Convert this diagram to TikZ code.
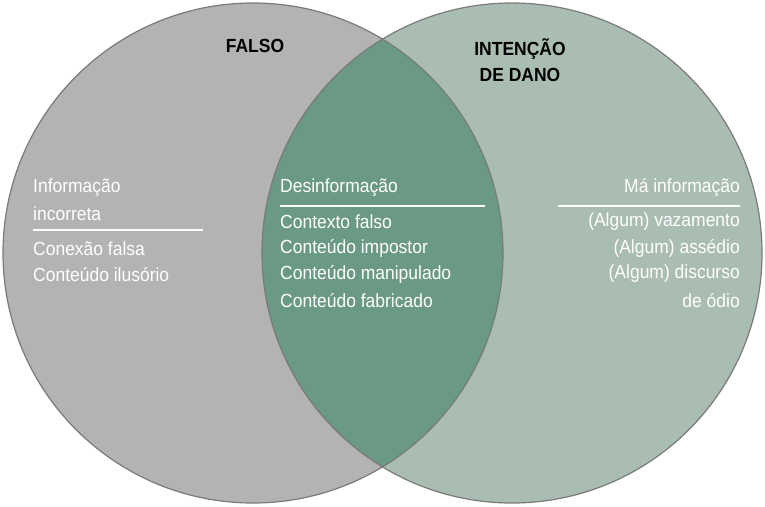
\documentclass[tikz,border=0pt]{standalone}
\usepackage{fontspec}
\setmainfont{Liberation Sans}[FakeStretch=0.92]
\begin{document}
\begin{tikzpicture}[x=1pt,y=-1pt,
  txt/.style={text=white,font=\fontsize{19}{24}\selectfont,inner sep=0pt},
  hdr/.style={text=black,font=\bfseries\fontsize{19}{26}\selectfont,inner sep=0pt,align=center},
  rule/.style={white,line width=1.6pt}]
\useasboundingbox (0,0) rectangle (765,506);
\definecolor{cleft}{HTML}{B3B3B3}
\definecolor{cright}{HTML}{A9BDB2}
\definecolor{cmid}{HTML}{6A9985}
\definecolor{cedge}{HTML}{7A7A7A}
\fill[cleft] (253,253) circle (250);
\fill[cright] (512,253) circle (250);
\begin{scope}
\clip (253,253) circle (250);
\fill[cmid] (512,253) circle (250);
\end{scope}
\draw[cedge,line width=1.2pt] (253,253) circle (250);
\draw[cedge,line width=1.2pt] (512,253) circle (250);
\node[hdr] (h1) at (255,46) {FALSO};
\node[hdr] (h2) at (520,60) {INTENÇÃO\\DE DANO};
% left
\node[txt,anchor=west] (l1) at (33,188) {Informação};
\node[txt,anchor=west] (l2) at (33,214) {incorreta};
\draw[rule] (33,230) -- (203,230);
\node[txt,anchor=west] (l3) at (33,249) {Conexão falsa};
\node[txt,anchor=west] (l4) at (33,275) {Conteúdo ilusório};
% middle
\node[txt,anchor=west] (m0) at (280,188) {Desinformação};
\draw[rule] (280,206) -- (485,206);
\node[txt,anchor=west] (m1) at (280,222) {Contexto falso};
\node[txt,anchor=west] (m2) at (280,248) {Conteúdo impostor};
\node[txt,anchor=west] (m3) at (280,274) {Conteúdo manipulado};
\node[txt,anchor=west] (m4) at (280,301) {Conteúdo fabricado};
% right
\node[txt,anchor=east] (r0) at (740,188) {Má informação};
\draw[rule] (558,206) -- (740,206);
\node[txt,anchor=east] (r1) at (740,222) {(Algum) vazamento};
\node[txt,anchor=east] (r2) at (740,248) {(Algum) assédio};
\node[txt,anchor=east] (r3) at (740,274) {(Algum) discurso};
\node[txt,anchor=east] (r4) at (740,301) {de ódio};
\end{tikzpicture}
\end{document}
